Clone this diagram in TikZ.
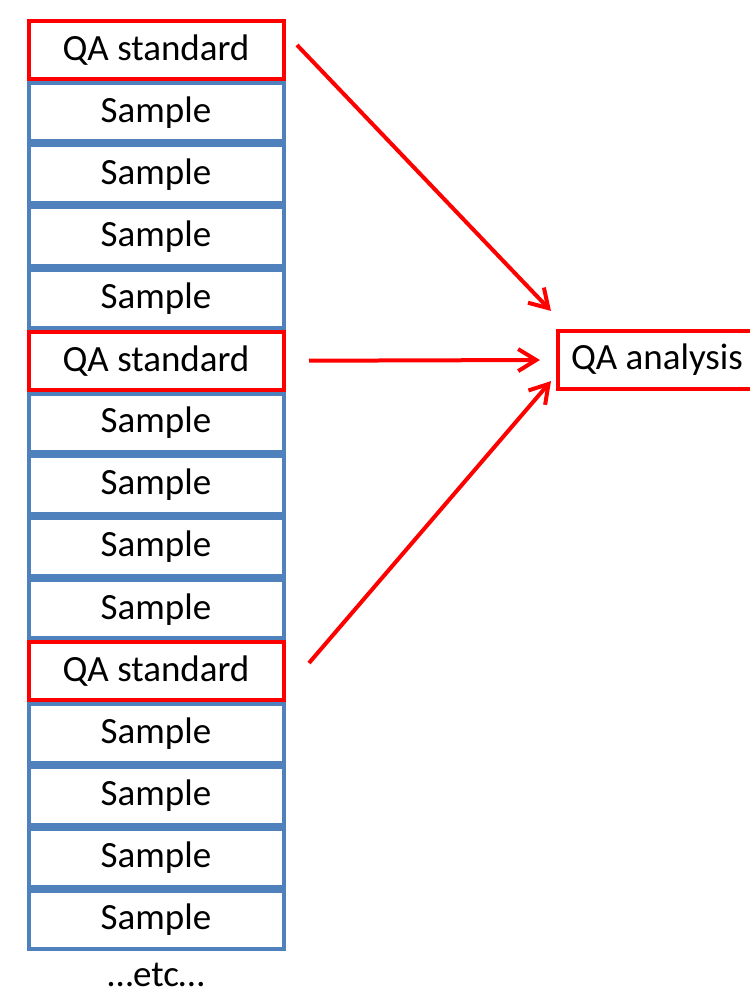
\documentclass[tikz,border=0pt]{standalone}
\usepackage{fontspec}
\setmainfont{Carlito}
\usetikzlibrary{positioning,arrows.meta}
\definecolor{qared}{RGB}{255,0,0}
\definecolor{sampleblue}{RGB}{79,129,189}
\tikzset{
  cell/.style={draw, line width=2pt, minimum width=127.5pt, minimum height=29.07pt,
    inner sep=0pt, font=\fontsize{18.5}{21}\selectfont},
  qacell/.style={cell, draw=qared},
  samplecell/.style={cell, draw=sampleblue},
  qalink/.style={draw=qared, line width=2pt, -{Straight Barb[length=9pt,width=11pt]}}
}
\begin{document}
\begin{tikzpicture}[x=0.5pt,y=-0.5pt]
\useasboundingbox (0,0) rectangle (750,993);
% the run: a QA standard, then four samples, three times
\foreach \n in {1,...,15}{
  \pgfmathtruncatemacro\kind{mod(\n-1,5)}
  \ifnum\kind=0
    \node[qacell] (cell\n) at (156,{50+62.14*(\n-1)}) {QA standard};
  \else
    \node[samplecell] (cell\n) at (156,{50+62.14*(\n-1)}) {Sample};
  \fi
}
\node[font=\fontsize{18.5}{21}\selectfont] (etc) at (156,975) {…etc…};
% box runs off the right edge
\node[qacell, minimum width=0pt, inner xsep=6.5pt, anchor=west] (ana) at (556,360) {QA analysis\hspace{12pt}};
% links to the analysis
\draw[qalink] ([shift={(5.75pt,2.5pt)}]cell1.east) -- ([shift={(-2.5pt,9pt)}]ana.north west);
\draw[qalink] ([xshift=11.75pt]cell6.east) -- ([xshift=-8pt]ana.west);
\draw[qalink] ([shift={(11.75pt,4.2pt)}]cell11.east) -- ([shift={(-2.5pt,5pt)}]ana.south west);
\end{tikzpicture}
\end{document}
